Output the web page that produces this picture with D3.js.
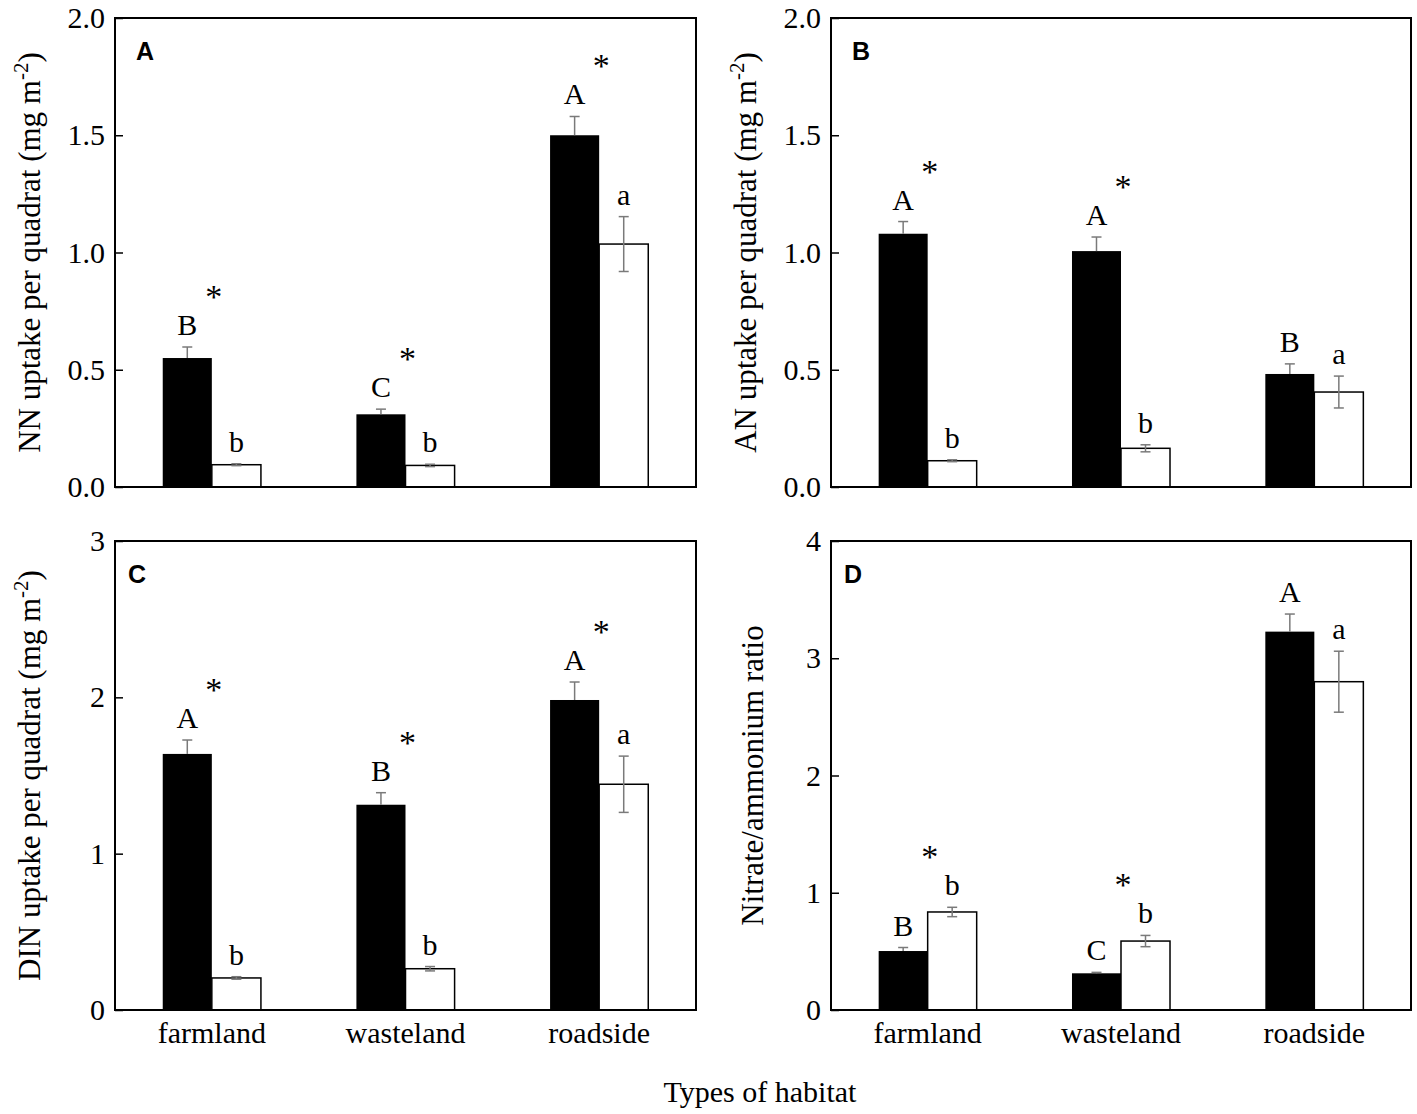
<!DOCTYPE html>
<html>
<head>
<meta charset="utf-8">
<script src="https://cdn.jsdelivr.net/npm/d3@7"></script>
<style>
  body { margin: 0; background: #fff; }
  svg text { font-family: "Liberation Serif", "Times New Roman", serif; }
</style>
</head>
<body>
<div id="chart"></div>
<script>
// habitats on the x axis
var categories = ["farmland", "wasteland", "roadside"];

// A: NN uptake per quadrat
var nnBlack = [0.55, 0.31, 1.50];
var nnBlackErr = [0.047, 0.022, 0.08];
var nnWhite = [0.095, 0.092, 1.036];
var nnWhiteErr = [0.004, 0.005, 0.117];
var nnUpper = ["B", "C", "A"];
var nnLower = ["b", "b", "a"];
var nnStar = [true, true, true];

// B: AN uptake per quadrat
var anBlack = [1.08, 1.006, 0.482];
var anBlackErr = [0.052, 0.06, 0.043];
var anWhite = [0.112, 0.165, 0.405];
var anWhiteErr = [0.004, 0.015, 0.068];
var anUpper = ["A", "A", "B"];
var anLower = ["b", "b", "a"];
var anStar = [true, true, false];

// C: DIN uptake per quadrat
var dinBlack = [1.638, 1.313, 1.983];
var dinBlackErr = [0.089, 0.077, 0.115];
var dinWhite = [0.205, 0.264, 1.444];
var dinWhiteErr = [0.008, 0.014, 0.18];
var dinUpper = ["A", "B", "A"];
var dinLower = ["b", "b", "a"];
var dinStar = [true, true, true];

// D: nitrate/ammonium ratio
var ratioBlack = [0.503, 0.313, 3.227];
var ratioBlackErr = [0.03, 0.008, 0.15];
var ratioWhite = [0.836, 0.588, 2.80];
var ratioWhiteErr = [0.04, 0.048, 0.26];
var ratioUpper = ["B", "C", "A"];
var ratioLower = ["b", "b", "a"];
var ratioStar = [true, true, false];

// y ticks
var ticksAB = [0, 0.5, 1.0, 1.5, 2.0];
var ticksC = [0, 1, 2, 3];
var ticksD = [0, 1, 2, 3, 4];

var panels = [
  { tag: "A", x: 115, y: 18, w: 581, h: 469, max: 2, ticks: ticksAB, fmt: ".1f",
    title: "NN uptake per quadrat (mg m", sup: true, tx: 75, lx: 21, cats: false,
    black: nnBlack, blackErr: nnBlackErr, white: nnWhite, whiteErr: nnWhiteErr,
    upper: nnUpper, lower: nnLower, star: nnStar },
  { tag: "B", x: 831, y: 18, w: 580, h: 469, max: 2, ticks: ticksAB, fmt: ".1f",
    title: "AN uptake per quadrat (mg m", sup: true, tx: 75, lx: 21, cats: false,
    black: anBlack, blackErr: anBlackErr, white: anWhite, whiteErr: anWhiteErr,
    upper: anUpper, lower: anLower, star: anStar },
  { tag: "C", x: 115, y: 541, w: 581, h: 469, max: 3, ticks: ticksC, fmt: "d",
    title: "DIN uptake per quadrat (mg m", sup: true, tx: 75, lx: 13, cats: true,
    black: dinBlack, blackErr: dinBlackErr, white: dinWhite, whiteErr: dinWhiteErr,
    upper: dinUpper, lower: dinLower, star: dinStar },
  { tag: "D", x: 831, y: 541, w: 580, h: 469, max: 4, ticks: ticksD, fmt: "d",
    title: "Nitrate/ammonium ratio", sup: false, tx: 68, lx: 13, cats: true,
    black: ratioBlack, blackErr: ratioBlackErr, white: ratioWhite, whiteErr: ratioWhiteErr,
    upper: ratioUpper, lower: ratioLower, star: ratioStar }
];

var errColor = "#7a7a7a";
var capHalf = 5;

var svg = d3.select("#chart").append("svg")
  .attr("width", 1417)
  .attr("height", 1114);

panels.forEach(function (p) {
  var g = svg.append("g")
    .attr("transform", "translate(" + p.x + "," + p.y + ")");

  var x0 = d3.scaleBand()
    .domain(categories)
    .range([0, p.w])
    .paddingInner(0.493)
    .paddingOuter(0.2465);

  var x1 = d3.scaleBand()
    .domain(["black", "white"])
    .range([0, x0.bandwidth()]);

  var y = d3.scaleLinear()
    .domain([0, p.max])
    .range([p.h, 0]);

  var rows = categories.map(function (c, i) {
    return {
      cat: c,
      black: p.black[i], blackErr: p.blackErr[i],
      white: p.white[i], whiteErr: p.whiteErr[i],
      upper: p.upper[i], lower: p.lower[i], star: p.star[i]
    };
  });

  // y axis, ticks pointing inward
  var axis = g.append("g")
    .call(d3.axisLeft(y)
      .tickValues(p.ticks)
      .tickFormat(d3.format(p.fmt))
      .tickSizeInner(-8)
      .tickSizeOuter(0)
      .tickPadding(10));
  axis.select(".domain").remove();
  axis.selectAll(".tick line")
    .attr("stroke", "#000")
    .attr("stroke-width", 1.5);
  axis.selectAll(".tick text")
    .attr("font-family", "'Liberation Serif', 'Times New Roman', serif")
    .attr("font-size", 30)
    .attr("fill", "#000");

  var groups = g.selectAll(".cat")
    .data(rows)
    .enter().append("g")
    .attr("class", "cat")
    .attr("transform", function (d) { return "translate(" + x0(d.cat) + ",0)"; });

  // black bars
  groups.append("rect")
    .attr("x", x1("black"))
    .attr("width", x1.bandwidth())
    .attr("y", function (d) { return y(d.black); })
    .attr("height", function (d) { return p.h - y(d.black); })
    .attr("fill", "#000");

  // white bars
  groups.append("rect")
    .attr("x", x1("white"))
    .attr("width", x1.bandwidth())
    .attr("y", function (d) { return y(d.white); })
    .attr("height", function (d) { return p.h - y(d.white); })
    .attr("fill", "#fff")
    .attr("stroke", "#000")
    .attr("stroke-width", 1.5);

  // error bars (black bars only show the upper half)
  var bx = x1("black") + x1.bandwidth() / 2;
  var wx = x1("white") + x1.bandwidth() / 2;

  groups.append("line")
    .attr("x1", bx).attr("x2", bx)
    .attr("y1", function (d) { return y(d.black); })
    .attr("y2", function (d) { return y(d.black + d.blackErr); })
    .attr("stroke", errColor).attr("stroke-width", 1.5);
  groups.append("line")
    .attr("x1", bx - capHalf).attr("x2", bx + capHalf)
    .attr("y1", function (d) { return y(d.black + d.blackErr); })
    .attr("y2", function (d) { return y(d.black + d.blackErr); })
    .attr("stroke", errColor).attr("stroke-width", 1.5);

  groups.append("line")
    .attr("x1", wx).attr("x2", wx)
    .attr("y1", function (d) { return y(d.white - d.whiteErr); })
    .attr("y2", function (d) { return y(d.white + d.whiteErr); })
    .attr("stroke", errColor).attr("stroke-width", 1.5);
  groups.selectAll(".cap")
    .data(function (d) { return [d.white - d.whiteErr, d.white + d.whiteErr]; })
    .enter().append("line")
    .attr("class", "cap")
    .attr("x1", wx - capHalf).attr("x2", wx + capHalf)
    .attr("y1", function (v) { return y(v); })
    .attr("y2", function (v) { return y(v); })
    .attr("stroke", errColor).attr("stroke-width", 1.5);

  // significance letters above each error bar
  groups.append("text")
    .attr("x", bx)
    .attr("y", function (d) { return y(d.black + d.blackErr) - 12; })
    .attr("text-anchor", "middle")
    .attr("font-size", 30)
    .text(function (d) { return d.upper; });
  groups.append("text")
    .attr("x", wx)
    .attr("y", function (d) { return y(d.white + d.whiteErr) - 12; })
    .attr("text-anchor", "middle")
    .attr("font-size", 30)
    .text(function (d) { return d.lower; });

  // asterisk above the higher letter of the pair
  groups.filter(function (d) { return d.star; })
    .append("text")
    .attr("x", x0.bandwidth() / 2 + 2)
    .attr("y", function (d) {
      var top = Math.min(y(d.black + d.blackErr), y(d.white + d.whiteErr)) - 12;
      return top - 47 + 20;
    })
    .attr("text-anchor", "middle")
    .attr("font-size", 34)
    .text("*");

  // frame
  g.append("rect")
    .attr("width", p.w)
    .attr("height", p.h)
    .attr("fill", "none")
    .attr("stroke", "#000")
    .attr("stroke-width", 2);

  // panel tag
  g.append("text")
    .attr("x", p.lx)
    .attr("y", 42)
    .style("font-family", "'Liberation Sans', Arial, sans-serif")
    .attr("font-weight", "bold")
    .attr("font-size", 25)
    .text(p.tag);

  // y title
  var title = g.append("text")
    .attr("transform", "translate(" + (-p.tx) + "," + (p.h / 2) + ") rotate(-90)")
    .attr("text-anchor", "middle")
    .attr("font-size", 31)
    .text(p.title);
  if (p.sup) {
    title.append("tspan")
      .attr("font-size", 21)
      .attr("dy", -12)
      .text("-2");
    title.append("tspan")
      .attr("dy", 12)
      .text(")");
  }

  // category labels on the bottom row
  if (p.cats) {
    g.selectAll(".catlabel")
      .data(categories)
      .enter().append("text")
      .attr("class", "catlabel")
      .attr("x", function (c) { return x0(c) + x0.bandwidth() / 2; })
      .attr("y", p.h + 33)
      .attr("text-anchor", "middle")
      .attr("font-size", 30)
      .text(function (c) { return c; });
  }
});

svg.append("text")
  .attr("x", 760)
  .attr("y", 1102)
  .attr("text-anchor", "middle")
  .attr("font-size", 30)
  .text("Types of habitat");
</script>
</body>
</html>
